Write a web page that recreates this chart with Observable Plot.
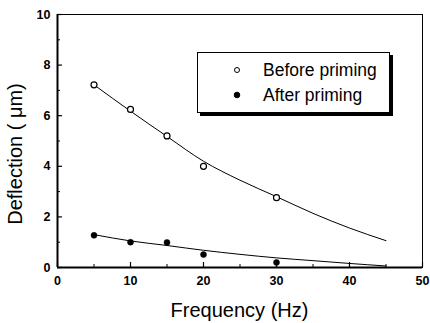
<!DOCTYPE html>
<html><head><meta charset="utf-8">
<script src="https://cdn.jsdelivr.net/npm/d3@7"></script>
<script src="https://cdn.jsdelivr.net/npm/@observablehq/plot@0.6"></script>
<style>html,body{margin:0;padding:0;background:#fff}</style>
</head><body><div id="chart"></div>
<script>
const freq = [5, 10, 15, 20, 30];
const beforePriming = [7.22, 6.25, 5.2, 4.0, 2.76];
const afterPriming = [1.27, 1.0, 0.99, 0.51, 0.2];
const fitFreq = [5, 10, 15, 20, 25, 30, 35, 40, 45];
const fitBefore = [7.22, 6.18, 5.18, 4.2, 3.45, 2.8, 2.14, 1.56, 1.06];
const fitAfter = [1.3, 1.05, 0.87, 0.68, 0.52, 0.38, 0.27, 0.16, 0.06];
const xMajor = [0, 10, 20, 30, 40, 50];
const xMinor = [5, 15, 25, 35, 45];
const yMajor = [0, 2, 4, 6, 8, 10];
const yMinor = [1, 3, 5, 7, 9];
const seriesNames = ["Before priming", "After priming"];
const xTitle = "Frequency (Hz)";
const yTitle = "Deflection ( \u03bcm)";

const W = 430, H = 323;
const mL = 57, mR = 8, mT = 14, mB = 56;
const fw = W - mL - mR, fh = H - mT - mB;
const FONT = "'Liberation Sans', Arial, sans-serif";

const beforeData = freq.map((f, i) => ({f, v: beforePriming[i]}));
const afterData = freq.map((f, i) => ({f, v: afterPriming[i]}));
const fitB = fitFreq.map((f, i) => ({f, v: fitBefore[i]}));
const fitA = fitFreq.map((f, i) => ({f, v: fitAfter[i]}));

const plot = Plot.plot({
  width: W, height: H,
  marginLeft: mL, marginRight: mR, marginTop: mT, marginBottom: mB,
  style: {fontFamily: FONT, background: "white", color: "black"},
  x: {domain: [xMajor[0], xMajor[xMajor.length - 1]]},
  y: {domain: [yMajor[0], yMajor[yMajor.length - 1]]},
  marks: [
    Plot.frame({stroke: "black", strokeWidth: 1}),
    Plot.ruleY([yMajor[0]], {stroke: "black", strokeWidth: 2}),
    Plot.ruleX([xMajor[0]], {stroke: "black", strokeWidth: 2}),
    Plot.tickX(xMajor, {x: d => d, stroke: "black", strokeWidth: 1.2, insetTop: fh - 5}),
    Plot.tickX(xMinor, {x: d => d, stroke: "black", strokeWidth: 1, insetTop: fh - 3}),
    Plot.tickY(yMajor, {y: d => d, stroke: "black", strokeWidth: 1.2, insetRight: fw - 5}),
    Plot.tickY(yMinor, {y: d => d, stroke: "black", strokeWidth: 1, insetRight: fw - 3}),
    Plot.axisX({ticks: xMajor, tickSize: 0, tickPadding: 9, fontSize: 12.5, fontWeight: "bold", label: null}),
    Plot.axisY({ticks: yMajor, tickSize: 0, tickPadding: 7, fontSize: 12.5, fontWeight: "bold", label: null}),
    Plot.line(fitB, {x: "f", y: "v", curve: "monotone-x", stroke: "black", strokeWidth: 1}),
    Plot.line(fitA, {x: "f", y: "v", curve: "monotone-x", stroke: "black", strokeWidth: 1}),
    Plot.dot(beforeData, {x: "f", y: "v", r: 3, stroke: "black", fill: "white", strokeWidth: 1.2}),
    Plot.dot(afterData, {x: "f", y: "v", r: 3, fill: "black", stroke: "black", strokeWidth: 0.5})
  ]
});
document.getElementById("chart").appendChild(plot);

const svg = d3.select(plot);
// axis titles
svg.append("text").attr("x", mL + fw / 2).attr("y", 317)
  .attr("text-anchor", "middle").attr("font-size", 20).attr("fill", "black")
  .attr("font-family", FONT).text(xTitle);
svg.append("text").attr("transform", "translate(22,154) rotate(-90)")
  .attr("text-anchor", "middle").attr("font-size", 20).attr("fill", "black")
  .attr("font-family", FONT).text(yTitle);
// legend
const lg = svg.append("g").attr("text-anchor", "start");
lg.append("rect").attr("x", 200).attr("y", 55).attr("width", 193).attr("height", 61).attr("fill", "black");
lg.append("rect").attr("x", 197.5).attr("y", 52.5).attr("width", 192).attr("height", 60)
  .attr("fill", "white").attr("stroke", "black").attr("stroke-width", 1);
seriesNames.forEach((name, i) => {
  const cy = 70 + i * 25;
  lg.append("circle").attr("cx", 237).attr("cy", cy).attr("r", i === 0 ? 2.5 : 2.8)
    .attr("fill", i === 0 ? "white" : "black").attr("stroke", "black").attr("stroke-width", 1);
  lg.append("text").attr("x", 263).attr("y", cy + 6).attr("font-size", 17.5).attr("fill", "black")
    .attr("text-anchor", "start").attr("font-family", FONT).text(name);
});
</script>
</body></html>
